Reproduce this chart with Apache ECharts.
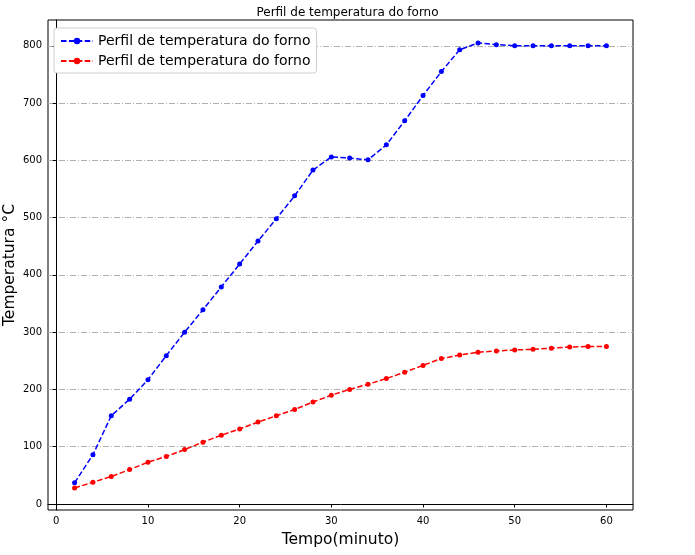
<!DOCTYPE html>
<html><head><meta charset="utf-8">
<script src="https://cdn.jsdelivr.net/npm/echarts@6/dist/echarts.min.js"></script>
<style>html,body{margin:0;padding:0;background:#fff}#c{width:695px;height:555px}</style>
</head><body><div id="c"></div>
<script>
const tempo = [2,4,6,8,10,12,14,16,18,20,22,24,26,28,30,32,34,36,38,40,42,44,46,48,50,52,54,56,58,60];
const forno1 = [37,86,154,183,217,259,300,339,379,419,459,498,538,583,606,604,601,627,669,713,755,793,805,802,800,800,800,800,800,800];
const forno2 = [28,38,48,60,73,83,95,108,120,131,143,154,165,178,190,200,209,219,230,242,254,260,265,267,269,270,272,274,275,275];
const xTicks = [0,10,20,30,40,50,60];
const yTicks = [0,100,200,300,400,500,600,700,800];
const seriesName = 'Perfil de temperatura do forno';

const chart = echarts.init(document.getElementById('c'), null, {renderer:'canvas'});
const font = 'DejaVu Sans';
function mk(vals, color){
  return {
    name: seriesName + (color==='#ff0000' ? ' ' : ''),
    type:'line',
    data: tempo.map((t,i)=>[t, vals[i]]),
    symbol:'circle', symbolSize:5,
    itemStyle:{color:color},
    lineStyle:{color:color, width:1.5, type:[5.5,2.4]},
    animation:false
  };
}
chart.setOption({
  animation:false,
  backgroundColor:'#fff',
  title:{text:'Perfil de temperatura do forno', left:'center', top:2,
    textStyle:{fontFamily:font, fontSize:12, fontWeight:'normal', color:'#000'}},
  legend:{
    left:54, top:28, orient:'vertical',
    backgroundColor:'#fff', borderColor:'#d0d0d0', borderWidth:1, borderRadius:3,
    padding:[6,6,5,6], itemGap:6, itemWidth:32, itemHeight:8,
    formatter: n => n.trim(),
    textStyle:{fontFamily:font, fontSize:14, color:'#000'},
    data:[seriesName, seriesName+' ']
  },
  grid:{left:48, right:62, top:20, bottom:45, show:true, borderColor:'#000', borderWidth:1, containLabel:false, outerBoundsMode:'none'},
  xAxis:{
    type:'value', min:-0.9, max:62.9,
    name:'Tempo(minuto)', nameLocation:'middle', nameGap:22,
    nameTextStyle:{fontFamily:font, fontSize:15.5, color:'#000'},
    axisLine:{show:true, lineStyle:{color:'#000', width:1}},
    axisTick:{show:true, length:3.5, lineStyle:{color:'#000'}, customValues:xTicks},
    axisLabel:{fontFamily:font, fontSize:10, color:'#000', margin:6, customValues:xTicks},
    splitLine:{show:false}
  },
  yAxis:{
    type:'value', min:-10.5, max:845,
    name:'Temperatura °C', nameLocation:'middle', nameGap:30, nameMoveOverlap:false,
    nameTextStyle:{fontFamily:font, fontSize:15.5, color:'#000'},
    axisLine:{show:true, lineStyle:{color:'#000', width:1}},
    axisTick:{show:true, length:3.5, lineStyle:{color:'#000'}, customValues:yTicks},
    axisLabel:{fontFamily:font, fontSize:10, color:'#000', margin:6, customValues:yTicks},
    splitLine:{show:true, lineStyle:{color:'#b0b0b0', width:1, type:[6,2,1,2]}}
  },
  series:[mk(forno1,'#0000ff'), mk(forno2,'#ff0000')]
});
</script></body></html>
